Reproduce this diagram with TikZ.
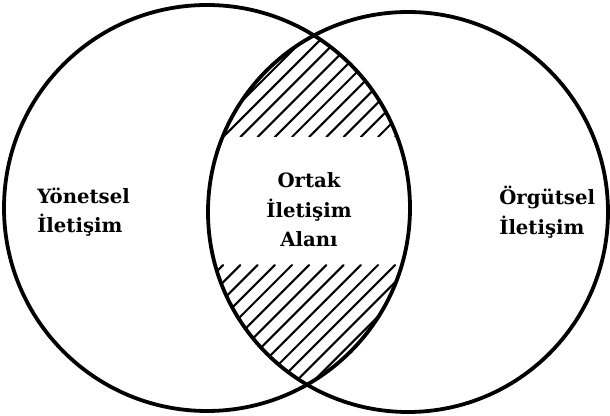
\documentclass[tikz,border=0pt]{standalone}
\usepackage{fontspec}
\setmainfont{DejaVu Serif}
\tikzset{
  ring/.style={line width=2.7pt},
  hatch/.style={line width=1.5pt},
  label/.style={inner sep=0pt, font=\bfseries\fontsize{14}{21}\selectfont}
}
\begin{document}
\begin{tikzpicture}[line join=round, line cap=round]
  \useasboundingbox (0,0) rectangle (15.25,10.4);
  \coordinate (L) at (5.175,5.2);
  \coordinate (R) at (10.2,5.1);

  \begin{scope}
    \clip (L) circle (5.075);
    \clip (R) circle (5.0);
    \clip (0,6.975) rectangle (15.25,10.4);
    \foreach \x in {3.0,3.43,...,10.0}
      \draw[hatch] (\x,6.975) -- ++(3.6,3.6);
  \end{scope}

  \begin{scope}
    \clip (L) circle (5.075);
    \clip (R) circle (5.0);
    \clip (0,0) rectangle (15.25,3.775);
    \foreach \x in {5.58,6.01,...,13.0}
      \draw[hatch] (\x,3.775) -- ++(-3.6,-3.6);
  \end{scope}

  \draw[ring] (L) circle (5.075);
  \draw[ring] (R) circle (5.0);

  \node[label, align=left, anchor=west] (yon) at (0.925,5.1) {Yönetsel\\İletişim};
  \node[label, align=center] (ortak) at (7.725,5.15) {Ortak\\İletişim\\Alanı};
  \node[label, align=left, anchor=west] (org) at (12.475,5.09) {Örgütsel\\İletişim};
\end{tikzpicture}
\end{document}
